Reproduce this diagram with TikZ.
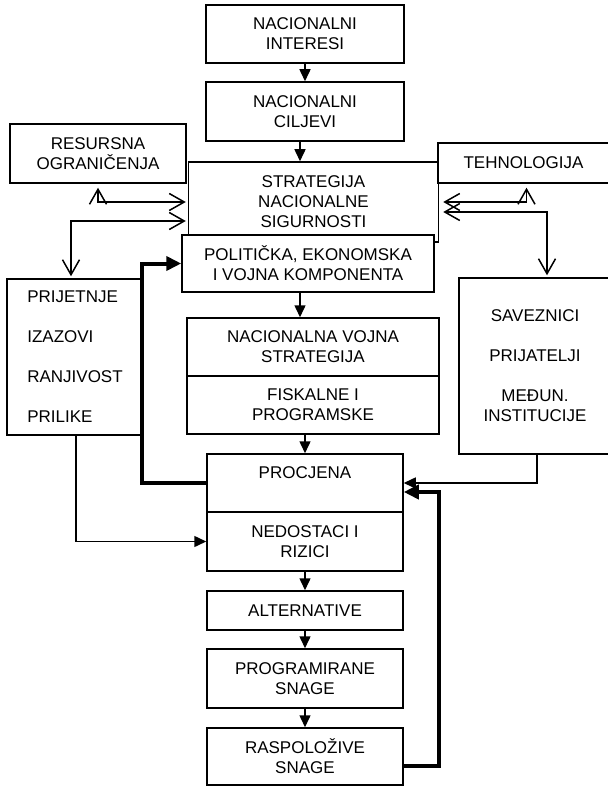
\documentclass[tikz,border=0pt]{standalone}
\usepackage{fontspec}
\setmainfont{Liberation Sans}
\usetikzlibrary{arrows.meta}

\begin{document}
\begin{tikzpicture}[x=1pt,y=-1pt,line width=1.5pt,
  tri/.tip={Triangle[length=12pt,width=11pt]},
  bigtri/.tip={Triangle[length=15pt,width=14pt]},
  barb/.tip={Straight Barb[length=15pt,width=17pt]}]
\tikzstyle{box}=[draw, fill=white, inner sep=0pt, align=center, font=\fontsize{17}{20}\selectfont]
\tikzstyle{heavy}=[line width=4pt]
\useasboundingbox (0,0) rectangle (607,786);
% main column
\node at (305,34) [box, minimum width=198, minimum height=58] (int) {NACIONALNI\\INTERESI};
\node at (305,111.5) [box, minimum width=198, minimum height=59] (cil) {NACIONALNI\\CILJEVI};
\node at (313.5,202) [box, minimum width=250, minimum height=80] (strat) {STRATEGIJA\\NACIONALNE\\SIGURNOSTI};
\node at (308,263.5) [box, minimum width=252, minimum height=57] (pol) {POLITIČKA, EKONOMSKA\\I VOJNA KOMPONENTA};
\node at (313,347) [box, minimum width=252, minimum height=58] (nvs) {NACIONALNA VOJNA\\STRATEGIJA};
\node at (313,405) [box, minimum width=252, minimum height=58] (fis) {FISKALNE I\\PROGRAMSKE};
\node at (305,483) [box, minimum width=196, minimum height=58, text depth=20pt] (proc) {PROCJENA};
\node at (305,541.5) [box, minimum width=196, minimum height=59] (ned) {NEDOSTACI I\\RIZICI};
\node at (305,610.5) [box, minimum width=196, minimum height=39] (alt) {ALTERNATIVE};
\node at (305,678.5) [box, minimum width=196, minimum height=59] (prog) {PROGRAMIRANE\\SNAGE};
\node at (305,756.5) [box, minimum width=196, minimum height=57] (rasp) {RASPOLOŽIVE\\SNAGE};
% side boxes
\node at (98,153.5) [box, minimum width=176, minimum height=59] (res) {RESURSNA\\OGRANIČENJA};
\node at (523.5,163) [box, minimum width=171, minimum height=40] (tech) {TEHNOLOGIJA};
\node at (75,357) [box, minimum width=136, minimum height=156, align=left] (prij) {PRIJETNJE\\[20pt]IZAZOVI\\[20pt]RANJIVOST\\[20pt]PRILIKE};
\node at (535,366) [box, minimum width=152, minimum height=176] (sav) {SAVEZNICI\\[20pt]PRIJATELJI\\[20pt]MEĐUN.\\INSTITUCIJE};
% down the column
\draw[-tri] (int) -- (cil);
\draw[-tri] ([xshift=-5pt]cil.south) -- ([xshift=-5pt]cil.south |- strat.north);
\draw[-tri] ([xshift=-8pt]pol.south) -- ([xshift=-8pt]pol.south |- nvs.north);
\draw[-tri] (proc.north |- fis.south) -- (proc.north);
\draw[-tri] (ned) -- (alt);
\draw[-tri] (alt) -- (prog);
\draw[-tri] (prog) -- (rasp);
% side links
\draw[barb-barb, shorten <=4pt, shorten >=2pt] (res.south) |- (strat.west);
\draw[barb-barb, shorten >=2pt, shorten <=2pt] ([xshift=-4pt]prij.north) |- ([yshift=-19pt]strat.west);
\draw[barb-barb, shorten <=4pt, shorten >=4pt] ([xshift=3pt]tech.south) |- (strat.east);
\draw[barb-barb, shorten >=4pt, shorten <=2pt] ([xshift=12pt]sav.north) |- ([yshift=-10pt]strat.east);
\draw[-tri] ([xshift=1pt]prij.south) |- (ned.west);
\draw[-tri] ([xshift=2pt]sav.south) |- (proc.east);
% feedback
\draw[heavy, -bigtri] (proc.west) -- ++(-64,0) |- (pol.west);
\draw[heavy, -bigtri] ([yshift=-9pt]rasp.east) -- ++(35,0) |- ([yshift=-9pt]proc.east);
\end{tikzpicture}
\end{document}
